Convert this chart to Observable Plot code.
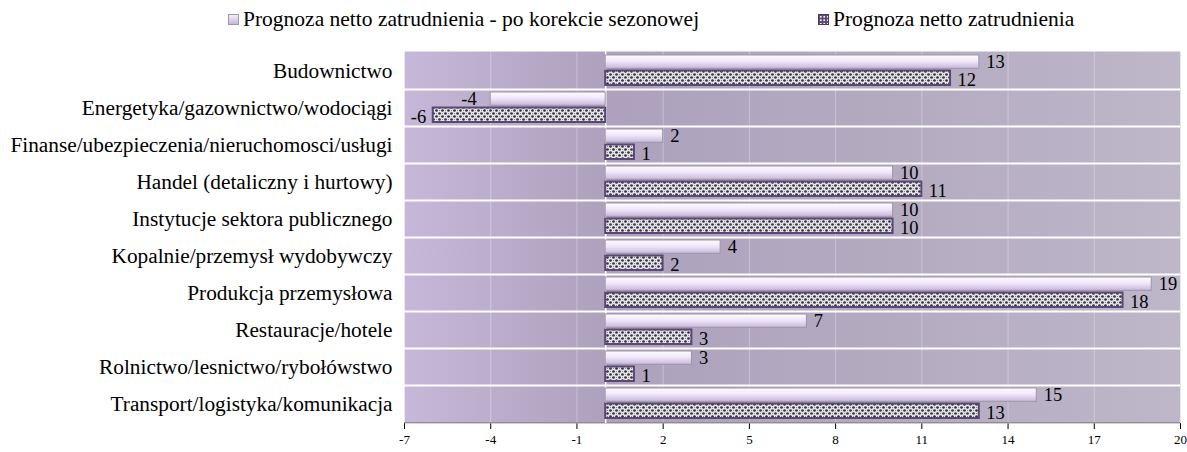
<!DOCTYPE html>
<html><head><meta charset="utf-8">
<script src="https://cdn.jsdelivr.net/npm/d3@7"></script>
<script src="https://cdn.jsdelivr.net/npm/@observablehq/plot@0.6"></script>
<style>
body{margin:0;background:#fff;font-family:'Liberation Serif','Times New Roman',Times,Tinos,'DejaVu Serif',serif;}
#legend{position:relative;height:40px;font-size:21.5px;color:#000}
.item{position:absolute;top:8px;display:flex;align-items:center;white-space:nowrap;line-height:22px}
.sw{width:11px;height:11px;margin-right:4px;box-sizing:border-box}
.sw1{background:linear-gradient(#f6f0fc,#c6b4da);border:1px solid #9d96a6}
.sw2{background-color:#5a4775;background-image:radial-gradient(circle,#f0f0f0 1px,transparent 1.3px);background-size:3.5px 3.5px;border:1px solid #4a3a63}
#chart svg text{font-family:'Liberation Serif','Times New Roman',Times,Tinos,'DejaVu Serif',serif}
#chart svg g[aria-label^="y-axis"] text{font-size:21.3px}
#chart svg g[aria-label^="x-axis"] text{font-size:13px}
g[aria-label="raw-bars"] rect{filter:drop-shadow(1px 2px 1.5px rgba(50,30,70,0.55))}
g[aria-label="seasonal-bars"] rect{filter:drop-shadow(1px 1px 1px rgba(50,30,70,0.35))}
</style></head><body>
<div id="legend"></div>
<div id="chart"></div>
<script>
const categories = [
  "Budownictwo",
  "Energetyka/gazownictwo/wodociągi",
  "Finanse/ubezpieczenia/nieruchomosci/usługi",
  "Handel (detaliczny i hurtowy)",
  "Instytucje sektora publicznego",
  "Kopalnie/przemysł wydobywczy",
  "Produkcja przemysłowa",
  "Restauracje/hotele",
  "Rolnictwo/lesnictwo/rybołówstwo",
  "Transport/logistyka/komunikacja"
];
const seasonal = [13, -4, 2, 10, 10, 4, 19, 7, 3, 15];
const raw = [12, -6, 1, 11, 10, 2, 18, 3, 1, 13];
const xTicks = [-7, -4, -1, 2, 5, 8, 11, 14, 17, 20];
const seriesNames = ["Prognoza netto zatrudnienia - po korekcie sezonowej", "Prognoza netto zatrudnienia"];

const rows = categories.map((c, i) => ({category: c, seasonal: seasonal[i], raw: raw[i]}));

const legend = document.getElementById("legend");
legend.innerHTML =
  `<div class="item" style="left:228px"><div class="sw sw1"></div>${seriesNames[0]}</div>` +
  `<div class="item" style="left:818px"><div class="sw sw2"></div>${seriesNames[1]}</div>`;

const W = 1187, H = 412, mt = 11, mb = 29, ml = 404, mr = 7;
const bw = (H - mt - mb) / categories.length;
const last = categories[categories.length - 1];

const chart = Plot.plot({
  width: W, height: H, marginTop: mt, marginBottom: mb, marginLeft: ml, marginRight: mr,
  style: {background: "transparent", overflow: "visible", color: "#000"},
  x: {domain: [-7, 20], ticks: xTicks, tickFormat: d => String(d), tickSize: 6, tickPadding: 5, label: null},
  y: {domain: categories, padding: 0, tickSize: 0, tickPadding: 12, label: null},
  marks: [
    Plot.frame({fill: "url(#bgGrad)", stroke: null}),
    Plot.ruleX(xTicks, {stroke: "#fff", strokeOpacity: 0.3}),
    Plot.ruleY(categories.slice(1), {y: d => d, dy: -bw / 2, stroke: "#fff", strokeWidth: 2}),
    Plot.ruleY([last], {y: d => d, dy: bw / 2, stroke: "#8a8a8a", strokeWidth: 1}),
    Plot.ruleX([0], {stroke: "#fff", strokeWidth: 1.5}),
    Plot.barX(rows, {y: "category", x: "seasonal", insetTop: 3, insetBottom: bw - 16.5,
      fill: "url(#seasGrad)", stroke: "#9d96a6", strokeWidth: 1, ariaLabel: "seasonal-bars"}),
    Plot.barX(rows, {y: "category", x: "raw", insetTop: 18.5, insetBottom: 4,
      fill: "url(#dots)", stroke: "#5a4775", strokeWidth: 2, ariaLabel: "raw-bars"}),
    Plot.text(rows, {filter: d => d.seasonal >= 0, y: "category", x: "seasonal", text: d => String(d.seasonal),
      dx: 7, dy: -9, textAnchor: "start", fontSize: 18.5, fill: "#000"}),
    Plot.text(rows, {filter: d => d.seasonal < 0, y: "category", x: "seasonal", text: d => String(d.seasonal),
      dx: -14, dy: -9, textAnchor: "end", fontSize: 18.5, fill: "#000"}),
    Plot.text(rows, {filter: d => d.raw >= 0, y: "category", x: "raw", text: d => String(d.raw),
      dx: 7, dy: 9, textAnchor: "start", fontSize: 18.5, fill: "#000"}),
    Plot.text(rows, {filter: d => d.raw < 0, y: "category", x: "raw", text: d => String(d.raw),
      dx: -7, dy: 9, textAnchor: "end", fontSize: 18.5, fill: "#000"})
  ]
});

const defs = document.createElementNS("http://www.w3.org/2000/svg", "defs");
defs.innerHTML = `
<linearGradient id="bgGrad" x1="0" y1="0" x2="1" y2="0">
  <stop offset="0" stop-color="#c6b8d8"/>
  <stop offset="0.26" stop-color="#ada1bd"/>
  <stop offset="0.6" stop-color="#b3aac0"/>
  <stop offset="1" stop-color="#beb6c9"/>
</linearGradient>
<linearGradient id="seasGrad" x1="0" y1="0" x2="0" y2="1">
  <stop offset="0" stop-color="#fdfbff"/>
  <stop offset="0.45" stop-color="#f1e8fa"/>
  <stop offset="1" stop-color="#c9b7dc"/>
</linearGradient>
<pattern id="dots" width="6" height="6" patternUnits="userSpaceOnUse">
  <rect width="6" height="6" fill="#e6e6ea"/>
  <circle cx="1.5" cy="1.5" r="1.35" fill="#34303a"/>
  <circle cx="4.5" cy="4.5" r="1.35" fill="#34303a"/>
  <rect x="4" y="1" width="1" height="1" fill="#8d8994"/>
  <rect x="1" y="4" width="1" height="1" fill="#8d8994"/>
</pattern>`;
chart.prepend(defs);
document.getElementById("chart").appendChild(chart);
</script>
</body></html>
